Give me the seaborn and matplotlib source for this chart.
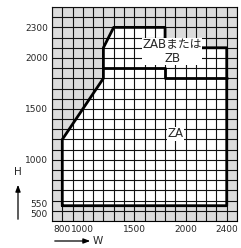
import numpy as np
import pandas as pd
import matplotlib
matplotlib.use("Agg")
import matplotlib.pyplot as plt
import matplotlib.transforms as mtrans
import seaborn as sns

# Data
fill_w = [800, 800, 1200, 1200, 1300, 1800, 1800, 2200, 2200, 2400, 2400]
fill_h = [550, 1200, 1800, 2100, 2300, 2300, 2200, 2200, 2100, 2100, 550]
outer_w = [800, 800, 1200, 1200, 1300, 1800, 1800, 2400, 2400, 800]
outer_h = [550, 1200, 1800, 2100, 2300, 2300, 2100, 2100, 550, 550]
inner_w = [1200, 1800, 1800, 2400]
inner_h = [1900, 1900, 1800, 1800]
x_ticks = [800, 1000, 1500, 2000, 2400]
y_ticks = [500, 550, 1000, 1500, 2000, 2300]
grid_step = 100
x_range = [700, 2500]
y_range = [400, 2500]
label_top = "ZABまたは\nZB"
label_bottom = "ZA"

sns.set_style("white")
plt.rcParams['font.family'] = ['DejaVu Sans', 'Noto Sans CJK JP']

fig = plt.figure(figsize=(2.41, 2.48), dpi=100)
ax = fig.add_axes([52/241, 1-221/248, (237-52)/241, (221-7)/248])
ax.set_facecolor('#dcdcdc')

ax.fill(fill_w, fill_h, color='white', zorder=1, lw=0)

outer = pd.DataFrame({"W": outer_w, "H": outer_h})
inner = pd.DataFrame({"W": inner_w, "H": inner_h})
sns.lineplot(data=outer, x="W", y="H", sort=False, estimator=None, color='black', lw=2.0, ax=ax, zorder=3)
sns.lineplot(data=inner, x="W", y="H", sort=False, estimator=None, color='black', lw=2.0, ax=ax, zorder=3)

ax.set_xlim(x_range)
ax.set_ylim(y_range)
ax.xaxis.remove_overlapping_locs = False
ax.yaxis.remove_overlapping_locs = False
ax.set_xticks(x_ticks)
ax.set_yticks(y_ticks)
ax.set_xticks(np.arange(x_range[0], x_range[1] + 1, grid_step), minor=True)
ax.set_yticks(np.arange(y_range[0], y_range[1] + 1, grid_step), minor=True)
ax.set_axisbelow(False)
ax.grid(which='major', visible=False)
ax.grid(which='minor', color='#111111', lw=0.8, zorder=2)
ax.tick_params(which='minor', length=0)
ax.tick_params(which='major', length=2, width=0.8, direction='out', labelsize=6.5, pad=1, color='black')
ax.set_xlabel("")
ax.set_ylabel("")
for s in ax.spines.values():
    s.set_color('black')
    s.set_linewidth(0.8)

# separate the close 500 / 550 labels
for lab in ax.get_yticklabels():
    t = lab.get_text()
    if t == "550":
        lab.set_transform(lab.get_transform() + mtrans.ScaledTranslation(0, 2/100, fig.dpi_scale_trans))
    elif t == "500":
        lab.set_transform(lab.get_transform() + mtrans.ScaledTranslation(0, -2.5/100, fig.dpi_scale_trans))

ax.text(1870, 2065, label_top, ha='center', va='center', fontsize=8.5, zorder=4,
        linespacing=1.05, bbox=dict(facecolor='white', edgecolor='none', pad=0.3))
ax.text(1900, 1255, label_bottom, ha='center', va='center', fontsize=8.5, zorder=4,
        bbox=dict(facecolor='white', edgecolor='none', pad=0.3))

# axis arrows
fig.patches.append(matplotlib.patches.FancyArrowPatch((18/241, 1-222/248), (18/241, 1-182/248),
    transform=fig.transFigure, arrowstyle='-|>,head_length=4,head_width=1.5', lw=0.9, color='black', mutation_scale=1))
fig.text(18/241, 1-172/248, "H", ha='center', va='center', fontsize=7.5)
fig.patches.append(matplotlib.patches.FancyArrowPatch((52/241, 1-241/248), (93/241, 1-241/248),
    transform=fig.transFigure, arrowstyle='-|>,head_length=4,head_width=1.5', lw=0.9, color='black', mutation_scale=1))
fig.text(98/241, 1-241/248, "W", ha='center', va='center', fontsize=7.5)

fig.savefig("out.png", dpi=100)
